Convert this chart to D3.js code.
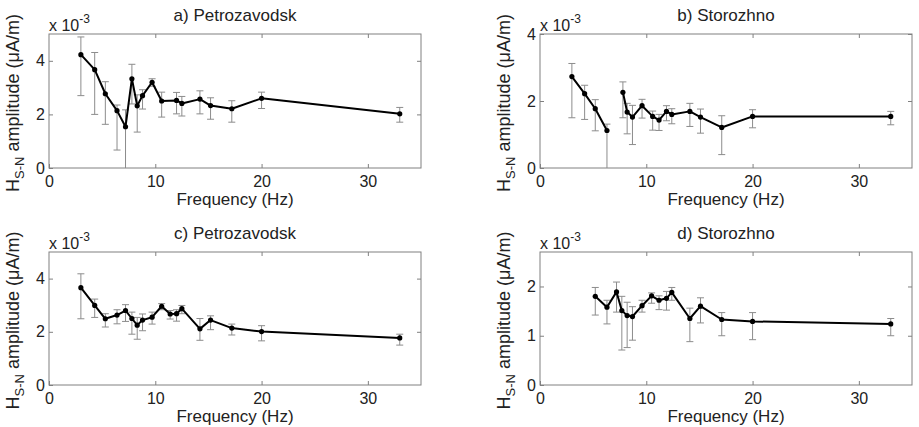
<!DOCTYPE html>
<html lang="en">
<head>
<meta charset="utf-8">
<title>H S-N amplitude vs frequency</title>
<script src="https://d3js.org/d3.v7.min.js"></script>
<style>
  body { margin: 0; background: #fff; }
  text { font-family: "Liberation Sans", Arial, sans-serif; fill: #222; }
  .frame { fill: none; stroke: #808080; stroke-width: 1; }
  .tick line { stroke: #808080; }
  .err { stroke: #8c8c8c; stroke-width: 1; fill: none; }
  .curve { stroke: #000; stroke-width: 2; fill: none; stroke-linejoin: round; }
  .dot { fill: #000; }
</style>
</head>
<body>
<script>
// ---- data (amplitude in units of 1e-3 uA/m) ----
var freqA = [3.0, 4.3, 5.3, 6.4, 7.2, 7.8, 8.3, 8.8, 9.7, 10.6, 12.0, 12.5, 14.2, 15.2, 17.2, 20.0, 33.0];
var ampA  = [4.23, 3.67, 2.77, 2.14, 1.54, 3.33, 2.32, 2.70, 3.20, 2.50, 2.52, 2.41, 2.57, 2.33, 2.21, 2.60, 2.02];
var loA   = [2.70, 2.00, 1.63, 0.67, -0.5, 2.39, 1.34, 2.20, 3.05, 1.90, 2.02, 1.94, 2.02, 1.82, 1.71, 2.22, 1.71];
var hiA   = [4.89, 4.31, 3.22, 2.35, 2.17, 3.87, 2.73, 2.92, 3.33, 2.83, 2.82, 2.67, 2.88, 2.62, 2.51, 2.83, 2.26];

var freqB = [3.0, 4.2, 5.2, 6.3, 7.2, 7.8, 8.2, 8.7, 9.6, 10.6, 11.2, 11.9, 12.4, 14.1, 15.1, 17.1, 20.0, 33.0];
var ampB  = [2.73, 2.22, 1.77, 1.12, null, 2.26, 1.67, 1.52, 1.86, 1.54, 1.43, 1.69, 1.60, 1.69, 1.52, 1.21, 1.54, 1.54];
var loB   = [1.50, 1.45, 1.11, -0.5, null, 1.50, 1.02, 0.70, 1.49, 1.13, 1.12, 1.41, 1.32, 1.24, 1.04, 0.40, 1.20, 1.29];
var hiB   = [3.12, 2.47, 2.04, 1.31, null, 2.57, 1.93, 1.87, 2.05, 1.70, 1.60, 1.86, 1.77, 1.93, 1.76, 1.56, 1.74, 1.69];

var freqC = [3.0, 4.3, 5.3, 6.4, 7.2, 7.8, 8.3, 8.8, 9.7, 10.6, 11.4, 12.0, 12.5, 14.2, 15.2, 17.2, 20.0, 33.0];
var ampC  = [3.66, 2.99, 2.49, 2.63, 2.80, 2.50, 2.25, 2.44, 2.55, 2.96, 2.67, 2.68, 2.87, 2.11, 2.44, 2.14, 2.01, 1.77];
var loC   = [2.49, 2.54, 2.18, 2.30, 2.39, 1.91, 1.72, 2.04, 2.29, 2.83, 2.48, 2.40, 2.68, 1.68, 2.08, 1.88, 1.66, 1.50];
var hiC   = [4.18, 3.23, 2.68, 2.83, 3.02, 2.74, 2.54, 2.67, 2.74, 3.06, 2.80, 2.83, 2.99, 2.50, 2.60, 2.29, 2.23, 1.91];

var freqD = [5.2, 6.3, 7.2, 7.7, 8.2, 8.7, 9.6, 10.5, 11.2, 11.9, 12.4, 14.1, 15.1, 17.1, 20.0, 33.0];
var ampD  = [1.80, 1.58, 1.89, 1.51, 1.41, 1.39, 1.61, 1.81, 1.72, 1.76, 1.88, 1.35, 1.60, 1.33, 1.29, 1.24];
var loD   = [1.42, 1.24, 1.48, 0.71, 0.76, 0.91, 1.48, 1.66, 1.53, 1.52, 1.72, 0.88, 1.26, 1.00, 0.92, 1.00];
var hiD   = [1.98, 1.72, 2.09, 1.80, 1.68, 1.59, 1.72, 1.87, 1.81, 1.90, 1.98, 1.56, 1.77, 1.47, 1.47, 1.35];

var titles = ["a) Petrozavodsk", "b) Storozhno", "c) Petrozavodsk", "d) Storozhno"];
var xTicks = [0, 10, 20, 30];
var yTicksA = [0, 2, 4], yTicksB = [0, 2, 4], yTicksC = [0, 2, 4], yTicksD = [0, 1, 2];
var yMaxes = [5, 4, 5, 2.7];

// ---- layout ----
var w = 919, h = 427;
var boxes = [
  {x0: 49,  x1: 421, y0: 34,  y1: 168},
  {x0: 540, x1: 912, y0: 34,  y1: 168},
  {x0: 49,  x1: 421, y0: 252, y1: 385},
  {x0: 540, x1: 912, y0: 252, y1: 385}
];

var panels = [
  {f: freqA, a: ampA, lo: loA, hi: hiA, yt: yTicksA},
  {f: freqB, a: ampB, lo: loB, hi: hiB, yt: yTicksB},
  {f: freqC, a: ampC, lo: loC, hi: hiC, yt: yTicksC},
  {f: freqD, a: ampD, lo: loD, hi: hiD, yt: yTicksD}
];

var svg = d3.select("body").append("svg")
  .attr("width", w).attr("height", h);

panels.forEach(function(p, i) {
  var b = boxes[i];
  var x = d3.scaleLinear().domain([0, 35]).range([b.x0, b.x1]);
  var y = d3.scaleLinear().domain([0, yMaxes[i]]).range([b.y1, b.y0]);
  var g = svg.append("g");

  var clipId = "clip" + i;
  svg.append("clipPath").attr("id", clipId).append("rect")
    .attr("x", b.x0).attr("y", b.y0)
    .attr("width", b.x1 - b.x0).attr("height", b.y1 - b.y0);

  // axes (ticks inside on all four sides)
  var tickLen = 4;
  g.append("g").attr("class", "x axis")
    .attr("transform", "translate(0," + b.y1 + ")")
    .call(d3.axisBottom(x).tickValues(xTicks).tickSize(-tickLen).tickPadding(8).tickFormat(d3.format("d")))
    .call(function(s) { s.select(".domain").remove(); s.selectAll("text").attr("font-size", 16).attr("dy", "0.71em"); });
  g.append("g")
    .attr("transform", "translate(0," + b.y0 + ")")
    .call(d3.axisTop(x).tickValues(xTicks.filter(function(d) { return d > 0; })).tickSize(-tickLen).tickFormat(""))
    .call(function(s) { s.select(".domain").remove(); });
  g.append("g").attr("class", "y axis")
    .attr("transform", "translate(" + b.x0 + ",0)")
    .call(d3.axisLeft(y).tickValues(p.yt).tickSize(-tickLen).tickPadding(4).tickFormat(d3.format("d")))
    .call(function(s) { s.select(".domain").remove(); s.selectAll("text").attr("font-size", 16); });
  g.append("g")
    .attr("transform", "translate(" + b.x1 + ",0)")
    .call(d3.axisRight(y).tickValues(p.yt.filter(function(d) { return d > 0; })).tickSize(-tickLen).tickFormat(""))
    .call(function(s) { s.select(".domain").remove(); });

  g.append("rect").attr("class", "frame")
    .attr("x", b.x0).attr("y", b.y0)
    .attr("width", b.x1 - b.x0).attr("height", b.y1 - b.y0);

  // data
  var rows = p.f.map(function(f, j) { return {f: f, a: p.a[j], lo: p.lo[j], hi: p.hi[j]}; });
  var valid = rows.filter(function(d) { return d.a != null; });
  var plot = g.append("g").attr("clip-path", "url(#" + clipId + ")");
  var cap = 3.5;

  var eb = plot.selectAll(".eb").data(valid).enter().append("g").attr("class", "eb");
  eb.append("line").attr("class", "err")
    .attr("x1", function(d) { return x(d.f); }).attr("x2", function(d) { return x(d.f); })
    .attr("y1", function(d) { return y(d.lo); }).attr("y2", function(d) { return y(d.hi); });
  eb.append("line").attr("class", "err")
    .attr("x1", function(d) { return x(d.f) - cap; }).attr("x2", function(d) { return x(d.f) + cap; })
    .attr("y1", function(d) { return y(d.hi); }).attr("y2", function(d) { return y(d.hi); });
  eb.append("line").attr("class", "err")
    .attr("x1", function(d) { return x(d.f) - cap; }).attr("x2", function(d) { return x(d.f) + cap; })
    .attr("y1", function(d) { return y(d.lo); }).attr("y2", function(d) { return y(d.lo); });

  var line = d3.line()
    .defined(function(d) { return d.a != null; })
    .x(function(d) { return x(d.f); })
    .y(function(d) { return y(d.a); });
  plot.append("path").attr("class", "curve").attr("d", line(rows));

  plot.selectAll(".dot").data(valid).enter().append("circle").attr("class", "dot")
    .attr("cx", function(d) { return x(d.f); })
    .attr("cy", function(d) { return y(d.a); })
    .attr("r", 2.6);

  // texts
  var cx = (b.x0 + b.x1) / 2;
  g.append("text").attr("x", cx).attr("y", b.y0 - 13)
    .attr("text-anchor", "middle").attr("font-size", 17).text(titles[i]);
  g.append("text").attr("x", cx).attr("y", b.y1 + 37)
    .attr("text-anchor", "middle").attr("font-size", 17).text("Frequency (Hz)");

  var ex = g.append("text").attr("x", b.x0).attr("y", b.y0 - 3).attr("font-size", 16);
  ex.append("tspan").text("x 10");
  ex.append("tspan").attr("dy", -8).attr("font-size", 12).text("-3");

  var yl = g.append("text")
    .attr("transform", "translate(" + (b.x0 - 30) + "," + ((b.y0 + b.y1) / 2 + 2) + ") rotate(-90)")
    .attr("text-anchor", "middle").attr("font-size", 18);
  yl.append("tspan").text("H");
  yl.append("tspan").attr("dy", 5).attr("font-size", 13).text("S-N");
  yl.append("tspan").attr("dy", -5).text(" amplitude (\u03bcA/m)");
});
</script>
</body>
</html>
